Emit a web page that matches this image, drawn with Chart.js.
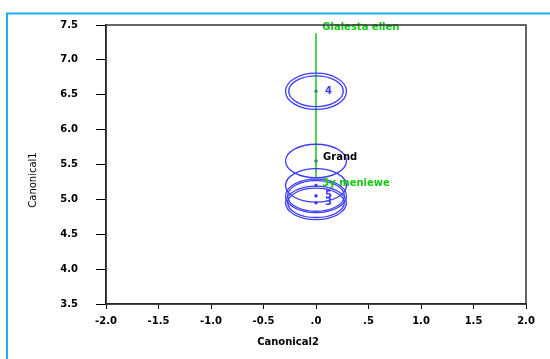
<!DOCTYPE html>
<html>
<head>
<meta charset="utf-8">
<script src="https://cdn.jsdelivr.net/npm/chart.js@4.4.1/dist/chart.umd.min.js"></script>
<style>
  body { margin: 0; background: #fff; }
  #wrap { width: 550px; height: 359px; position: relative; }
</style>
</head>
<body>
<div id="wrap"><canvas id="myChart" width="550" height="359"></canvas></div>
<script>
// axis ticks
let xTicks = ['-2.0', '-1.5', '-1.0', '-0.5', '.0', '.5', '1.0', '1.5', '2.0'];
let yTicks = ['3.5', '4.0', '4.5', '5.0', '5.5', '6.0', '6.5', '7.0', '7.5'];

// group means (canonical2, canonical1) and ellipse radii
let groupX = [0, 0, 0, 0, 0];
let groupY = [6.55, 5.55, 5.2, 5.05, 4.95];
let radiusX = [0.29, 0.29, 0.29, 0.29, 0.29];
let radiusY = [0.26, 0.24, 0.24, 0.24, 0.24];
let innerX = [0.26, null, null, 0.27, 0.27];
let innerY = [0.22, null, null, 0.22, 0.21];
let groupLabels = ['4', '', '', '5', '3'];

// biplot ray
let rayX = [0, 0];
let rayY = [5.32, 7.38];
let rayLabels = ['Glalesta ellen', '3y meniewe'];
let rayLabelX = [0.06, 0.06];
let rayLabelY = [7.46, 5.23];

// grand mean
let grandX = [0];
let grandY = [5.55];

const blue = '#3c3cf8';
const green = '#14c814';

const drawExtras = {
  id: 'extras',
  afterDatasetsDraw(chart) {
    const c = chart.ctx;
    const xs = chart.scales.x, ys = chart.scales.y;
    const a = chart.chartArea;
    c.save();
    // ellipses
    c.strokeStyle = blue;
    c.lineWidth = 1.3;
    for (let i = 0; i < groupX.length; i++) {
      const px = xs.getPixelForValue(groupX[i]);
      const py = ys.getPixelForValue(groupY[i]);
      const rx = Math.abs(xs.getPixelForValue(groupX[i] + radiusX[i]) - px);
      const ry = Math.abs(ys.getPixelForValue(groupY[i] + radiusY[i]) - py);
      c.beginPath(); c.ellipse(px, py, rx, ry, 0, 0, Math.PI * 2); c.stroke();
      if (innerX[i]) {
        const ix = Math.abs(xs.getPixelForValue(groupX[i] + innerX[i]) - px);
        const iy = Math.abs(ys.getPixelForValue(groupY[i] + innerY[i]) - py);
        c.beginPath(); c.ellipse(px, py, ix, iy, 0, 0, Math.PI * 2); c.stroke();
      }
      if (groupLabels[i]) {
        c.fillStyle = blue;
        c.font = 'bold 10px "DejaVu Sans"';
        c.textBaseline = 'middle';
        c.fillText(groupLabels[i], px + 9, py);
      }
    }
    // ray labels
    c.fillStyle = green;
    c.font = 'bold 10px "DejaVu Sans"';
    c.textBaseline = 'middle';
    for (let i = 0; i < rayLabels.length; i++) {
      c.fillText(rayLabels[i], xs.getPixelForValue(rayLabelX[i]), ys.getPixelForValue(rayLabelY[i]));
    }
    c.fillStyle = '#000';
    c.fillText('Grand', xs.getPixelForValue(grandX[0]) + 7, ys.getPixelForValue(grandY[0]) - 4);
    // frame
    c.strokeStyle = '#333';
    c.lineWidth = 1.5;
    c.strokeRect(a.left, a.top, a.right - a.left, a.bottom - a.top);
    // axis titles
    c.fillStyle = '#000';
    c.font = 'bold 10px "DejaVu Sans"';
    c.textAlign = 'center';
    c.fillText('Canonical2', 288, 342);
    c.translate(33, 180);
    c.rotate(-Math.PI / 2);
    c.font = '10px "DejaVu Sans"';
    c.fillText('Canonical1', 0, 0);
    c.restore();
  },
  afterDraw(chart) {
    const c = chart.ctx;
    c.save();
    c.strokeStyle = '#1ab0f0';
    c.lineWidth = 2;
    c.beginPath();
    c.moveTo(7, 359); c.lineTo(7, 13.5); c.lineTo(550, 13.5);
    c.stroke();
    c.restore();
  }
};

const ctx = document.getElementById('myChart');

new Chart(ctx, {
  type: 'scatter',
  data: {
    datasets: [
      {
        label: 'ray',
        data: rayX.map((v, i) => ({ x: v, y: rayY[i] })),
        showLine: true,
        borderColor: green,
        borderWidth: 1.5,
        pointRadius: 0
      },
      {
        label: 'means',
        data: groupX.map((v, i) => ({ x: v, y: groupY[i] })),
        pointStyle: 'rect',
        pointRadius: 1.5,
        backgroundColor: blue,
        borderColor: blue
      }
    ]
  },
  plugins: [drawExtras],
  options: {
    responsive: false,
    animation: false,
    layout: { padding: { top: 25, right: 24, left: 0, bottom: 0 } },
    plugins: { legend: { display: false }, tooltip: { enabled: false } },
    scales: {
      x: {
        min: -2, max: 2,
        afterFit(scale) { scale.height = 55; },
        afterBuildTicks(scale) { scale.ticks = xTicks.map((t, i) => ({ value: -2 + i * 0.5 })); },
        ticks: {
          callback: (v, i) => xTicks[i],
          color: '#000',
          font: { family: 'DejaVu Sans', size: 10, weight: 'bold' },
          padding: 6,
          maxRotation: 0
        },
        grid: { drawOnChartArea: false, tickLength: 5, color: '#000' },
        border: { color: '#000', width: 1.5 }
      },
      y: {
        min: 3.5, max: 7.5,
        afterFit(scale) { scale.width = 106; },
        afterBuildTicks(scale) { scale.ticks = yTicks.map((t, i) => ({ value: 3.5 + i * 0.5 })); },
        ticks: {
          callback: (v, i) => yTicks[i],
          color: '#000',
          font: { family: 'DejaVu Sans', size: 10, weight: 'bold' },
          padding: 18
        },
        grid: { drawOnChartArea: false, tickLength: 10, color: '#000' },
        border: { color: '#000', width: 1.5 }
      }
    }
  }
});
</script>
</body>
</html>
